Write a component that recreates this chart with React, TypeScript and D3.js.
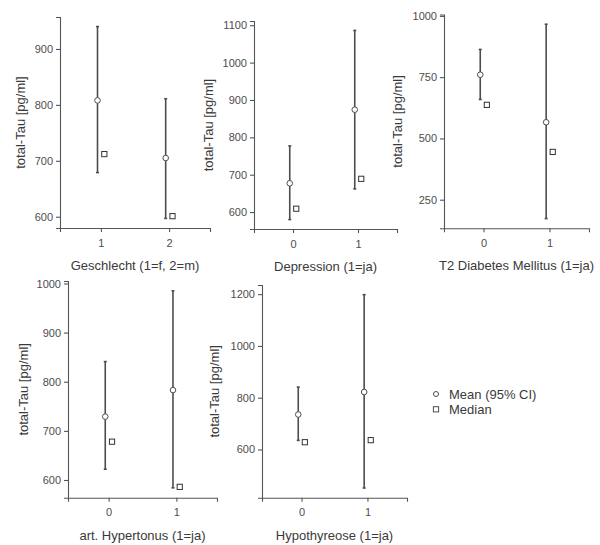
import React, { useRef, useEffect } from 'react';
import { select, scaleLinear, axisLeft, axisBottom, min, max, format } from 'd3';

const xTitles = [
    'Geschlecht (1=f, 2=m)',
    'Depression (1=ja)',
    'T2 Diabetes Mellitus (1=ja)',
    'art. Hypertonus (1=ja)',
    'Hypothyreose (1=ja)',
];
const groupLabels = [['1', '2'], ['0', '1'], ['0', '1'], ['0', '1'], ['0', '1']];
const means = [[808, 705], [677, 874], [760, 566], [729, 783], [735, 822]];
const ciLower = [[679, 597], [580, 662], [659, 173], [622, 584], [635, 451]];
const ciUpper = [[940, 811], [777, 1086], [863, 966], [841, 985], [841, 1198]];
const medians = [[712, 601], [609, 689], [637, 445], [678, 586], [628, 636]];
const yTicks = [
    [600, 700, 800, 900],
    [600, 700, 800, 900, 1000, 1100],
    [250, 500, 750, 1000],
    [600, 700, 800, 900, 1000],
    [600, 800, 1000, 1200],
];
const yTitle = 'total-Tau [pg/ml]';
const legendLabels = ['Mean (95% CI)', 'Median'];

// plot areas: left, right, top, bottom, y-title x
const boxes = [
    [60, 210, 17, 228, 20],
    [254, 397, 21, 229, 208],
    [444, 589, 14.5, 228.3, 397],
    [68, 217, 281, 497.7, 23],
    [262, 407, 285, 497.7, 214],
];

const font = '"Liberation Sans", Arial, sans-serif';
const ink = '#4d4d4d';

export default function App() {
    const svgRef = useRef<SVGSVGElement | null>(null);

    useEffect(() => {
        const svg = select(svgRef.current);
        svg.selectAll('*').remove();

        boxes.forEach(([l, r, t, b, yt], p) => {
            const lo = min(ciLower[p].concat(medians[p])) as number;
            const hi = max(ciUpper[p].concat(medians[p])) as number;
            const pad = (hi - lo) * 0.05;
            const y = scaleLinear().domain([lo - pad, hi + pad]).range([b, t]);
            const x = scaleLinear().domain([-0.6, 1.6]).range([l, r]);
            const g = svg.append('g');

            const ya = g.append('g')
                .attr('transform', `translate(${l},0)`)
                .call(axisLeft(y).tickValues(yTicks[p]).tickFormat(format('d') as any).tickSize(4).tickPadding(3) as any);
            const xa = g.append('g')
                .attr('transform', `translate(0,${b})`)
                .call(axisBottom(x).tickValues([0, 1]).tickFormat((d: any) => groupLabels[p][d]).tickSize(4).tickPadding(7) as any);
            [ya, xa].forEach((a) => {
                a.select('.domain').attr('stroke', '#555').attr('stroke-width', 1.1);
                a.selectAll('.tick line').attr('stroke', '#555').attr('stroke-width', 1.1);
                a.selectAll('.tick text').attr('fill', ink).style('font-family', font).style('font-size', '11px');
            });

            g.append('text')
                .attr('x', (l + r) / 2)
                .attr('y', b + 42)
                .attr('text-anchor', 'middle')
                .attr('fill', '#3a3a3a')
                .style('font-family', font)
                .style('font-size', '13px')
                .text(xTitles[p]);
            g.append('text')
                .attr('transform', `translate(${yt},${(t + b) / 2}) rotate(-90)`)
                .attr('text-anchor', 'middle')
                .attr('dominant-baseline', 'central')
                .attr('fill', '#3a3a3a')
                .style('font-family', font)
                .style('font-size', '13px')
                .text(yTitle);

            const idx = [0, 1];
            g.selectAll('.bar').data(idx).join('line')
                .attr('x1', (i) => x(i - 0.05)).attr('x2', (i) => x(i - 0.05))
                .attr('y1', (i) => y(ciLower[p][i])).attr('y2', (i) => y(ciUpper[p][i]))
                .attr('stroke', ink).attr('stroke-width', 1.6);
            ['lo', 'up'].forEach((k) => {
                const src = k === 'lo' ? ciLower[p] : ciUpper[p];
                g.selectAll('.cap' + k).data(idx).join('line')
                    .attr('x1', (i) => x(i - 0.05) - 1.5).attr('x2', (i) => x(i - 0.05) + 1.5)
                    .attr('y1', (i) => y(src[i])).attr('y2', (i) => y(src[i]))
                    .attr('stroke', ink).attr('stroke-width', 1.6);
            });
            g.selectAll('.mean').data(idx).join('circle')
                .attr('cx', (i) => x(i - 0.05)).attr('cy', (i) => y(means[p][i]))
                .attr('r', 2.8).attr('fill', '#fff').attr('stroke', ink).attr('stroke-width', 1);
            g.selectAll('.med').data(idx).join('rect')
                .attr('x', (i) => x(i + 0.05) - 2.6).attr('y', (i) => y(medians[p][i]) - 2.6)
                .attr('width', 5.2).attr('height', 5.2)
                .attr('fill', '#fff').attr('stroke', '#333').attr('stroke-width', 1);
        });

        const leg = svg.append('g').attr('transform', 'translate(436,394)');
        leg.append('circle').attr('cx', 0).attr('cy', 0).attr('r', 2.5)
            .attr('fill', '#fff').attr('stroke', ink).attr('stroke-width', 1);
        leg.append('rect').attr('x', -2.6).attr('y', 12.7).attr('width', 5.2).attr('height', 5.2)
            .attr('fill', '#fff').attr('stroke', ink).attr('stroke-width', 1);
        legendLabels.forEach((s, i) => {
            leg.append('text').attr('x', 13).attr('y', i * 15.5 + 4.5)
                .attr('fill', '#3a3a3a').style('font-family', font).style('font-size', '13px')
                .text(s);
        });
    }, []);

    return (
        <div style={{ position: 'absolute', left: 0, top: 0 }}>
            <svg ref={svgRef} width={600} height={545} style={{ display: 'block', background: '#fff' }}></svg>
        </div>
    );
}
